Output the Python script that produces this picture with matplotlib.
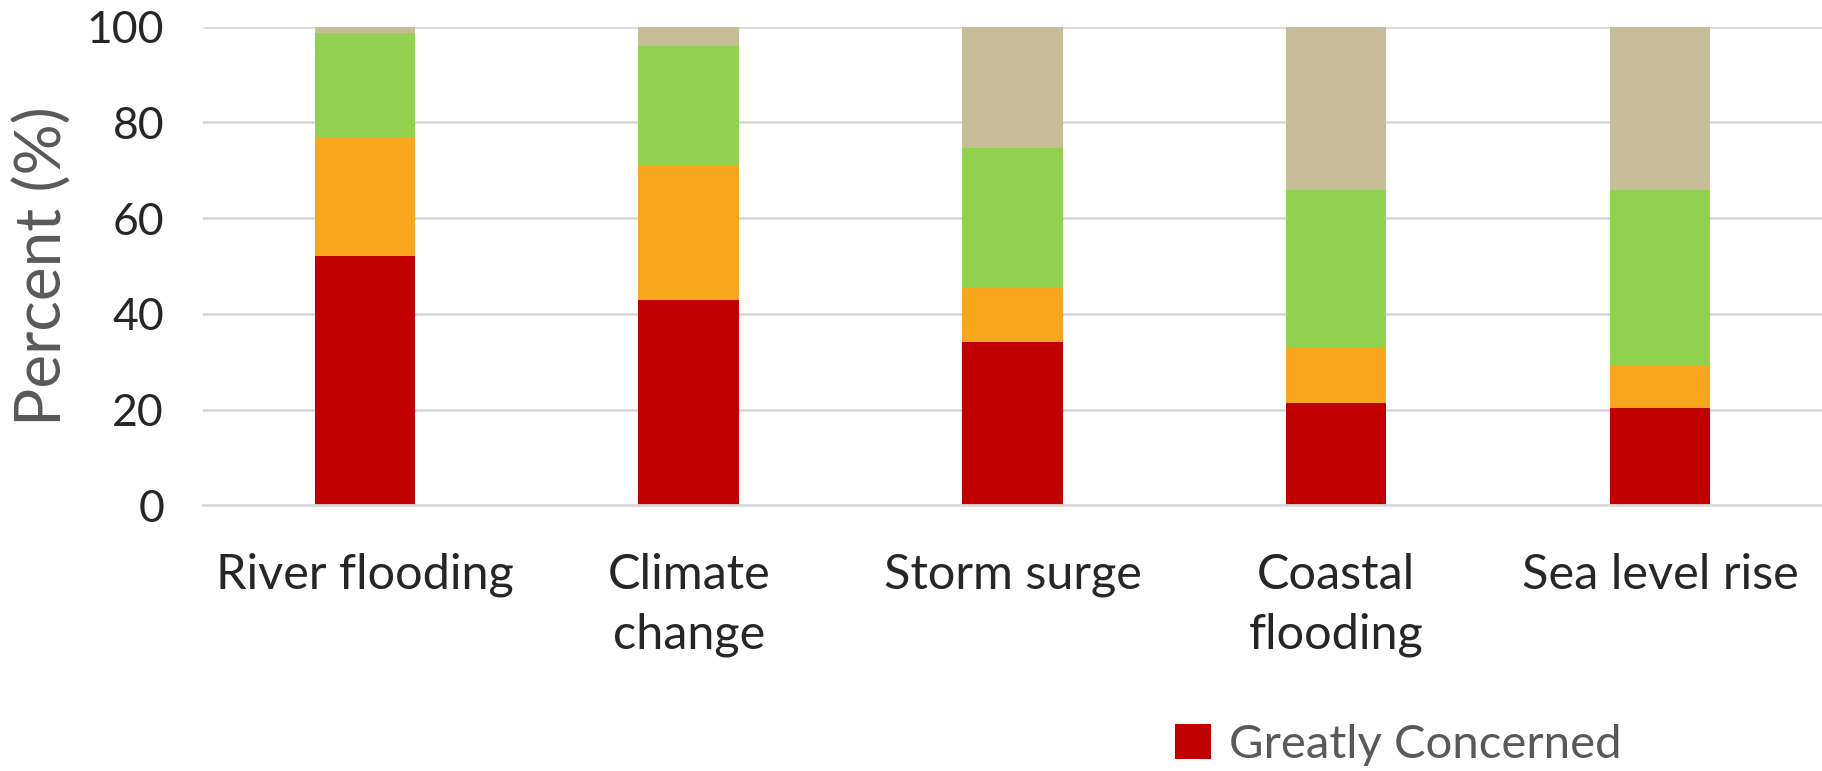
import numpy as np
import matplotlib
matplotlib.use("Agg")
from matplotlib import pyplot as plt

categories = ["River flooding", "Climate\nchange", "Storm surge", "Coastal\nflooding", "Sea level rise"]
greatly = [52, 43, 34.2, 21.5, 20.3]
somewhat = [25, 28, 11.4, 11.4, 9.0]
slightly = [21.7, 25, 29.1, 32.9, 36.5]
not_concerned = [1.3, 4, 25.3, 34.2, 34.2]
yticks = [0, 20, 40, 60, 80, 100]

plt.rcParams['font.family'] = ['Lato', 'DejaVu Sans']

fig = plt.figure(figsize=(18.22, 7.71), dpi=100)
ax = fig.add_axes([0.1114, 0.3444, 0.8886, 0.621])

x = np.arange(len(categories))
w = 0.31
b1 = ax.bar(x, greatly, w, color='#C00000', label='Greatly Concerned', zorder=2)
bottom = np.array(greatly)
ax.bar(x, somewhat, w, bottom=bottom, color='#F9A61F', zorder=2)
bottom = bottom + np.array(somewhat)
ax.bar(x, slightly, w, bottom=bottom, color='#92D050', zorder=2)
bottom = bottom + np.array(slightly)
ax.bar(x, not_concerned, w, bottom=bottom, color='#C4BD97', zorder=2)

ax.set_xlim(-0.5, len(categories) - 0.5)
ax.set_ylim(0, 100)
ax.set_yticks(yticks)
ax.yaxis.grid(True, color='#D9D9D9', linewidth=2, zorder=0)
ax.set_axisbelow(True)
for s in ['top', 'right', 'left']:
    ax.spines[s].set_visible(False)
ax.spines['bottom'].set_color('#D9D9D9')
ax.spines['bottom'].set_linewidth(2)
ax.tick_params(axis='both', length=0)
ax.tick_params(axis='y', labelsize=32, colors='#262626', pad=28)
ax.set_xticks(x)
ax.set_xticklabels(categories, fontsize=35, color='#262626', linespacing=1.45, va='top')
ax.tick_params(axis='x', pad=34)
ax.set_ylabel('Percent (%)', fontsize=46, color='#595959', labelpad=10)

fig.legend(handles=[b1], labels=['Greatly Concerned'], loc='center left',
           bbox_to_anchor=(0.645, 0.034), frameon=False, fontsize=34,
           labelcolor='#595959', handlelength=0.75, handleheight=0.75,
           handletextpad=0.4, borderpad=0, borderaxespad=0)

fig.savefig('out.png', dpi=100)
